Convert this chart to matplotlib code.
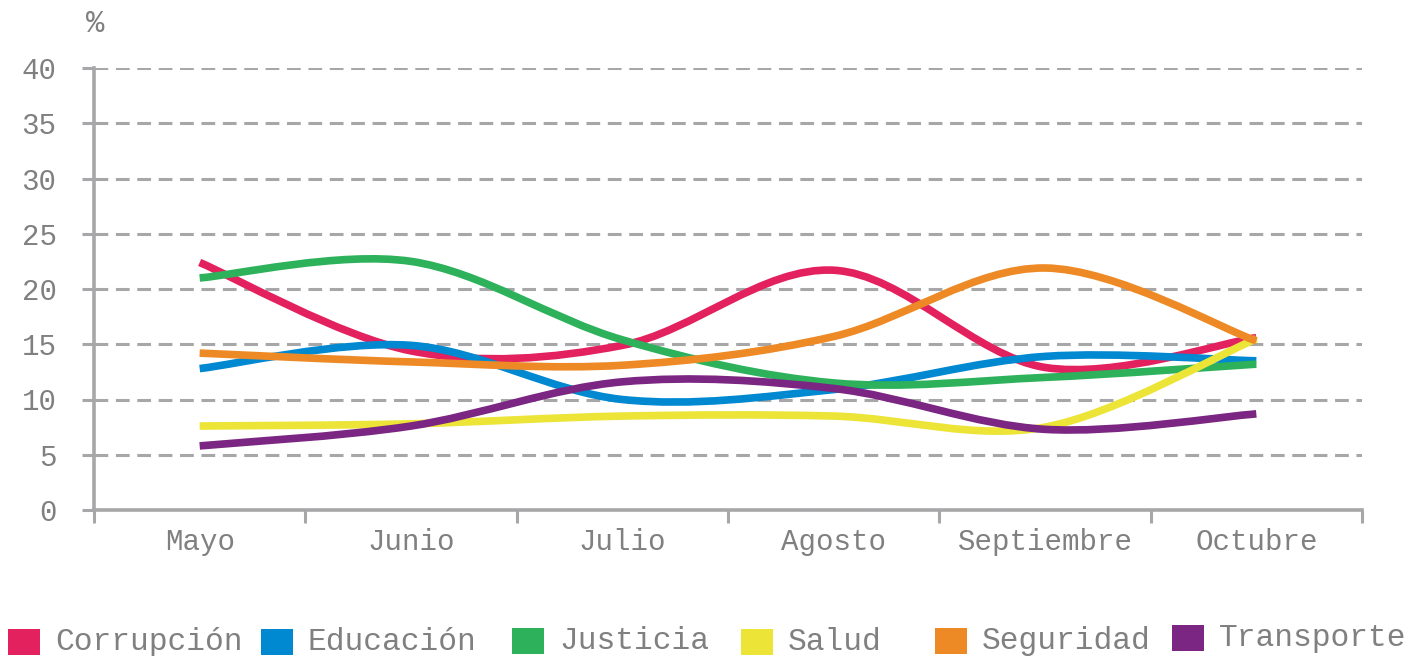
import numpy as np
from matplotlib import pyplot as plt
from matplotlib.path import Path
from matplotlib.patches import PathPatch, Rectangle

meses = ['Mayo', 'Junio', 'Julio', 'Agosto', 'Septiembre', 'Octubre']
temas = ['Corrupción', 'Educación', 'Justicia', 'Salud', 'Seguridad', 'Transporte']
colores = ['#E2215E', '#0088D1', '#2DB25B', '#ECE437', '#EE8A25', '#7A2682']

corrupcion = [22.4, 14.4, 14.9, 21.7, 12.9, 15.6]
educacion = [12.8, 14.9, 10.0, 10.9, 13.9, 13.5]
justicia = [21.0, 22.5, 15.4, 11.5, 12.0, 13.2]
salud = [7.6, 7.8, 8.5, 8.5, 7.5, 15.5]
seguridad = [14.2, 13.4, 13.1, 15.7, 21.9, 15.3]
transporte = [5.8, 7.6, 11.6, 11.0, 7.3, 8.7]
series = [corrupcion, educacion, justicia, salud, seguridad, transporte]

gris = '#A7A7A9'
texto = '#808080'
fuente = 'Liberation Mono'


def curva_suave(xs, ys):
    # bezier tipo "linea suavizada" de Excel
    pts = np.column_stack([xs, ys]).astype(float)
    ext = np.vstack([pts[0], pts, pts[-1]])
    verts = [pts[0]]
    codes = [Path.MOVETO]
    for i in range(len(pts) - 1):
        p0, p1, p2, p3 = ext[i], ext[i + 1], ext[i + 2], ext[i + 3]
        c1 = p1 + (p2 - p0) / 6.0
        c2 = p2 - (p3 - p1) / 6.0
        verts += [c1, c2, p2]
        codes += [Path.CURVE4] * 3
    return Path(verts, codes)


fig = plt.figure(figsize=(14.22, 6.56), dpi=100)
ax = fig.add_axes([94 / 1422, 1 - 510 / 656, (1362 - 94) / 1422, (510 - 68) / 656])

x = np.arange(len(meses))
for vals, col in zip(series, colores):
    ax.add_patch(PathPatch(curva_suave(x, vals), fill=False, edgecolor=col,
                           lw=5.5, capstyle='butt', joinstyle='round', zorder=3))

ax.set_xlim(-0.5, len(meses) - 0.5)
ax.set_ylim(0, 40)
ax.set_yticks(range(0, 41, 5))
ax.yaxis.grid(True, color=gris, lw=2.2, ls=(0, (4.5, 2.5)))
ax.set_axisbelow(True)

ax.set_xticks(np.arange(-0.5, len(meses), 1))
ax.set_xticklabels([])
ax.set_xticks(x, labels=meses, minor=True)
ax.tick_params(axis='x', which='major', length=9, width=2.2, color=gris, direction='out')
ax.tick_params(axis='x', which='minor', length=0, pad=13, labelsize=21, labelcolor=texto)
ax.tick_params(axis='y', length=9, width=2.2, color=gris, pad=18, labelsize=21, labelcolor=texto)
for lab in ax.get_xticklabels(minor=True) + ax.get_yticklabels():
    lab.set_fontfamily(fuente)

for s in ['top', 'right']:
    ax.spines[s].set_visible(False)
for s in ['left', 'bottom']:
    ax.spines[s].set_color(gris)
    ax.spines[s].set_linewidth(2.6)

fig.text(95 / 1422, 1 - 24 / 656, '%', ha='center', va='center', fontsize=22,
         color=texto, family=fuente)

# leyenda manual
leg_x = [8, 261, 512, 741, 935, 1172]
leg_y = [642, 642, 641, 642, 641, 638]
for nombre, col, lx, ly in zip(temas, colores, leg_x, leg_y):
    fig.patches.append(Rectangle(((lx) / 1422, 1 - (ly + 13) / 656), 32 / 1422, 26 / 656,
                                 transform=fig.transFigure, facecolor=col, edgecolor='none'))
    fig.text((lx + 47) / 1422, 1 - ly / 656, nombre, ha='left', va='center',
             fontsize=22.5, color=texto, family=fuente)

fig.savefig('out.png', dpi=100, facecolor='white')
